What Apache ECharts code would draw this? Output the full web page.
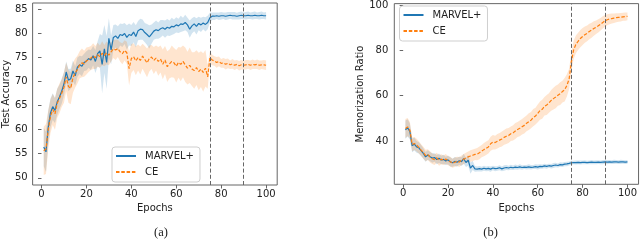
<!DOCTYPE html>
<html><head><meta charset="utf-8">
<script src="https://cdn.jsdelivr.net/npm/echarts@6/dist/echarts.min.js"></script>
<style>html,body{margin:0;padding:0;background:#fff}#c{width:640px;height:240px}</style>
</head><body><div id="c"></div>
<script>
const epochs = Array.from({length: 100}, (_, i) => i + 1);
const xTicks = [0, 20, 40, 60, 80, 100];
const accTicks = [50, 55, 60, 65, 70, 75, 80, 85];
const memTicks = [40, 60, 80, 100];
const phaseEpochs = [75, 90];
const seriesNames = ['MARVEL+', 'CE'];

// (a) Test accuracy
const accM = [56.4,55.4,60.5,63.5,64.8,64.0,65.8,66.8,68.0,69.5,
 72.0,70.3,70.6,72.2,71.2,73.0,73.5,73.2,74.0,74.3,
 74.8,74.5,75.4,74.2,75.8,76.4,73.6,76.8,74.0,79.0,
 76.6,79.2,79.5,79.0,79.8,79.6,80.0,79.2,79.8,79.6,
 80.3,79.4,80.6,80.9,80.8,80.2,79.8,79.3,79.9,80.5,
 80.8,80.6,81.0,81.2,80.9,81.3,81.1,81.5,81.4,81.8,
 81.6,82.0,81.9,82.3,81.8,80.9,81.6,82.0,81.5,82.1,
 81.8,82.2,81.9,82.3,83.3,83.6,83.6,83.7,83.6,83.7,
 83.7,83.6,83.7,83.8,83.7,83.7,83.6,83.7,83.8,83.7,
 83.7,83.8,83.7,83.7,83.8,83.7,83.7,83.8,83.7,83.7];
const accMs = [4.0,4.2,3.5,3.0,2.8,2.6,2.7,2.5,2.6,2.4,
 2.2,2.3,2.1,2.2,2.0,2.0,1.9,2.1,1.8,2.0,
 1.9,2.1,2.0,2.4,2.6,3.5,6.0,5.0,5.5,4.2,
 3.0,2.6,2.4,2.5,2.3,2.4,2.2,2.5,2.3,2.2,
 2.1,2.3,2.0,2.2,2.1,2.0,2.2,2.4,2.0,1.8,
 1.9,1.7,1.8,1.6,1.8,1.7,1.6,1.8,1.5,1.6,
 1.5,1.7,1.4,1.6,1.5,1.8,1.6,1.5,1.7,1.4,
 1.5,1.3,1.5,1.4,1.0,0.8,0.8,0.7,0.8,0.8,
 0.7,0.8,0.8,0.7,0.8,0.8,0.7,0.8,0.8,0.7,
 0.8,0.8,0.7,0.8,0.8,0.7,0.8,0.8,0.7,0.8];
const accC = [55.6,56.0,60.0,62.8,64.2,63.3,65.5,66.5,67.6,68.8,
 71.0,69.0,68.6,70.8,71.8,72.5,73.5,73.9,73.7,74.3,
 74.6,74.9,75.3,75.0,75.6,75.2,75.9,75.4,76.0,75.5,
 76.2,76.8,76.6,76.9,76.2,75.8,76.5,76.0,72.7,74.8,
 75.2,74.3,75.0,74.4,75.3,74.6,73.9,74.8,75.1,74.4,
 74.9,74.2,74.7,73.6,74.5,73.1,73.7,74.2,73.9,73.2,
 74.0,73.6,74.2,73.5,72.8,73.4,72.6,72.3,72.9,72.1,
 72.6,71.9,72.8,71.0,75.0,74.5,74.3,74.0,74.2,73.8,
 73.9,73.6,73.8,73.5,73.7,73.4,73.6,73.3,73.5,73.4,
 73.5,73.6,73.4,73.6,73.5,73.6,73.4,73.5,73.5,73.4];
const accCs = [5.0,5.2,4.0,3.5,3.2,3.3,3.0,3.1,2.9,3.2,
 3.0,3.4,3.3,3.1,3.0,2.9,2.8,3.0,2.7,2.8,
 2.6,2.5,2.7,2.4,2.5,2.3,2.5,2.2,2.4,2.1,
 2.0,1.9,2.1,1.8,2.0,2.2,2.1,2.3,3.5,3.0,
 2.8,3.0,2.7,2.9,2.6,2.8,3.0,2.7,2.5,2.8,
 2.6,3.0,2.8,3.1,2.9,3.2,3.0,3.3,3.1,3.4,
 3.2,3.5,3.3,3.6,3.4,3.7,3.5,3.8,3.6,3.9,
 3.7,4.0,3.8,2.5,1.3,1.1,1.0,1.1,1.0,0.9,
 1.0,1.1,1.0,0.9,1.0,1.0,0.9,1.0,1.0,0.9,
 1.0,0.9,1.0,1.0,0.9,1.0,1.0,0.9,1.0,1.0];

// (b) Memorization ratio
const memM = [45.0,45.8,44.2,38.0,38.6,37.4,37.0,35.8,34.5,33.0,
 33.8,33.1,32.5,32.7,31.8,32.4,31.6,31.9,31.2,31.7,
 30.8,30.4,31.0,30.6,31.3,30.9,32.2,30.5,31.5,28.0,
 29.2,27.7,27.6,27.8,27.6,28.0,27.7,27.9,27.6,28.1,
 27.8,27.9,28.2,27.7,28.1,28.3,28.1,28.4,28.2,28.5,
 28.3,28.6,28.3,28.5,28.4,28.6,28.4,28.5,28.7,28.5,
 28.8,28.7,29.0,28.8,29.1,28.9,29.2,29.4,29.2,29.6,
 29.5,29.8,29.9,30.1,30.4,30.5,30.5,30.6,30.5,30.6,
 30.6,30.5,30.6,30.7,30.6,30.6,30.7,30.6,30.7,30.8,
 30.7,30.8,30.7,30.8,30.8,30.7,30.8,30.8,30.7,30.8];
const memMs = [4.0,3.8,3.5,3.0,2.8,2.6,2.5,2.4,2.3,2.2,
 2.1,2.0,2.1,1.9,2.0,2.1,1.9,2.0,1.8,1.9,
 2.0,1.8,1.9,2.0,1.8,1.9,2.2,2.0,2.4,2.5,
 2.0,1.3,1.1,1.2,1.0,1.1,1.0,1.1,1.2,1.0,
 1.1,1.0,1.1,1.0,1.2,1.1,1.0,1.1,1.0,1.1,
 1.0,1.1,1.0,0.9,1.0,1.1,1.0,0.9,1.0,1.1,
 1.0,0.9,1.0,1.0,0.9,1.0,1.1,1.0,0.9,1.0,
 1.0,0.9,1.0,0.9,0.9,0.8,0.9,0.8,0.9,0.8,
 0.9,0.8,0.8,0.9,0.8,0.9,0.8,0.8,0.9,0.8,
 0.9,0.8,0.8,0.9,0.8,0.8,0.9,0.8,0.8,0.8];
const memC = [45.5,46.2,44.8,38.5,38.9,38.2,37.2,36.0,34.9,33.6,
 34.0,33.0,32.2,31.8,32.6,31.4,32.0,31.5,32.1,31.3,
 30.9,30.2,30.6,31.1,30.7,31.5,32.0,32.6,33.0,33.4,
 33.7,34.1,34.2,34.8,35.5,36.2,36.8,37.4,38.8,39.5,
 39.3,39.9,40.4,40.9,41.6,42.1,42.4,43.2,43.6,44.4,
 45.1,45.6,46.3,46.9,47.8,48.5,49.2,50.3,51.0,52.2,
 53.4,54.0,55.3,55.9,56.8,57.9,58.7,59.4,60.2,60.9,
 61.8,62.6,64.5,67.4,75.0,80.2,82.6,84.0,85.2,86.1,
 86.9,87.5,88.3,88.9,89.6,90.2,90.8,91.5,92.3,93.0,
 93.5,93.8,94.0,94.2,94.4,94.5,94.6,94.8,94.9,95.0];
const memCs = [4.2,4.0,3.6,3.0,2.9,2.8,2.7,2.6,2.6,2.5,
 2.4,2.5,2.3,2.4,2.2,2.3,2.2,2.1,2.2,2.0,
 2.1,2.0,2.1,2.0,2.2,2.1,2.3,2.2,2.4,2.5,
 2.6,2.5,2.7,2.8,2.7,2.9,3.0,2.9,3.1,3.2,
 3.0,3.2,3.1,3.3,3.2,3.4,3.3,3.2,3.4,3.5,
 3.3,3.5,3.4,3.6,3.5,3.7,3.6,3.8,3.7,3.9,
 4.0,4.2,4.1,4.4,4.3,4.6,4.8,5.0,4.7,5.0,
 4.8,5.2,4.9,4.5,4.2,4.0,3.9,3.8,3.8,3.7,
 3.6,3.5,3.4,3.3,3.2,3.0,2.9,2.8,2.7,2.6,
 2.4,2.3,2.2,2.1,2.0,1.9,1.9,1.8,1.8,1.7];

const BLUE = '#1f77b4', ORANGE = '#ff7f0e';
const BLUE_BAND = 'rgba(31,119,180,0.2)', ORANGE_BAND = 'rgba(255,127,14,0.2)';
const FONT = 'DejaVu Sans';
const TXT = '#222';
const FRAME = '#666';

function pts(vals) { return epochs.map((e, i) => [e, vals[i]]); }

// Shaded mean ± std band, drawn as one polygon through the axis scales (api.coord).
function band(key, mean, std, color, gi) {
  const rows = epochs.map((e, i) => [e, mean[i] - std[i], mean[i] + std[i]]);
  return {
    type: 'custom', name: key + ' band', xAxisIndex: gi, yAxisIndex: gi, silent: true, z: 1,
    data: rows, encode: {x: 0, y: [1, 2]},
    renderItem: function (params, api) {
      if (params.dataIndex !== 0) return null;
      const upper = rows.map(r => api.coord([r[0], r[2]]));
      const lower = rows.map(r => api.coord([r[0], r[1]])).reverse();
      return {type: 'polygon', shape: {points: upper.concat(lower)}, style: {fill: color, stroke: null}};
    }
  };
}
function meanLine(name, mean, color, dashed, gi, marks) {
  const s = {type: 'line', name: name, xAxisIndex: gi, yAxisIndex: gi, data: pts(mean),
    symbol: 'none', z: 3, color: color,
    lineStyle: {color: color, width: 1.2, type: dashed ? [3.5, 1.8] : 'solid'},
    itemStyle: {color: color}};
  if (marks) {
    s.markLine = {silent: true, symbol: ['none', 'none'], label: {show: false},
      lineStyle: {color: FRAME, width: 1, type: [4, 2.2]},
      data: phaseEpochs.map(v => ({xAxis: v}))};
  }
  return s;
}
function xAxis(gi) {
  return {type: 'value', gridIndex: gi, min: -3.95, max: 104.95,
    name: 'Epochs', nameLocation: 'middle', nameGap: 17,
    nameTextStyle: {fontFamily: FONT, fontSize: 10, color: TXT},
    axisLine: {show: false}, splitLine: {show: false},
    axisTick: {show: true, length: 3.5, lineStyle: {color: FRAME}, customValues: xTicks},
    axisLabel: {fontFamily: FONT, fontSize: 10, color: TXT, margin: 4, customValues: xTicks}};
}
function yAxis(gi, name, min, max, ticks, gap, margin) {
  return {type: 'value', gridIndex: gi, min: min, max: max,
    name: name, nameLocation: 'middle', nameGap: gap,
    nameTextStyle: {fontFamily: FONT, fontSize: 10, color: TXT},
    axisLine: {show: false}, splitLine: {show: false},
    axisTick: {show: true, length: 3.5, lineStyle: {color: FRAME}, customValues: ticks},
    axisLabel: {fontFamily: FONT, fontSize: 10, color: TXT, margin: margin, customValues: ticks}};
}
function legend(left, top) {
  return {orient: 'vertical', left: left, top: top, data: seriesNames,
    itemWidth: 20, itemHeight: 10, itemGap: 6, padding: [4, 6, 5, 3],
    borderColor: '#cfcfcf', borderWidth: 1, borderRadius: 3, backgroundColor: 'rgba(255,255,255,0.85)',
    selectedMode: false, itemStyle: {opacity: 0},
    textStyle: {fontFamily: FONT, fontSize: 10, color: TXT, padding: [0, 0, 0, 4]}};
}

const option = {
  animation: false,
  backgroundColor: '#fff',
  grid: [
    {left: 31.8, top: 3, width: 245.4, height: 182, show: true, borderColor: FRAME, borderWidth: 1, backgroundColor: 'transparent'},
    {left: 394.3, top: 3.3, width: 244.6, height: 181, show: true, borderColor: FRAME, borderWidth: 1, backgroundColor: 'transparent'}
  ],
  xAxis: [xAxis(0), xAxis(1)],
  yAxis: [
    yAxis(0, 'Test Accuracy', 48.5, 86.35, accTicks, 21, 5),
    yAxis(1, 'Memorization Ratio', 20.9, 100.6, memTicks, 27.5, 6)
  ],
  legend: [legend(112, 147), legend(399.5, 6)],
  series: [
    band('M', accM, accMs, BLUE_BAND, 0),
    band('C', accC, accCs, ORANGE_BAND, 0),
    meanLine('MARVEL+', accM, BLUE, false, 0, true),
    meanLine('CE', accC, ORANGE, true, 0, false),
    band('M', memM, memMs, BLUE_BAND, 1),
    band('C', memC, memCs, ORANGE_BAND, 1),
    meanLine('MARVEL+', memM, BLUE, false, 1, true),
    meanLine('CE', memC, ORANGE, true, 1, false)
  ],
  graphic: [
    {type: 'text', x: 161, y: 233, style: {text: '(a)', font: '12.5px "Liberation Serif"', fill: TXT, align: 'center', verticalAlign: 'middle', textAlign: 'center', textVerticalAlign: 'middle'}},
    {type: 'text', x: 490.5, y: 233, style: {text: '(b)', font: '12.5px "Liberation Serif"', fill: TXT, align: 'center', verticalAlign: 'middle', textAlign: 'center', textVerticalAlign: 'middle'}}
  ]
};
const chart = echarts.init(document.getElementById('c'), null, {renderer: 'canvas'});
chart.setOption(option);
</script></body></html>
